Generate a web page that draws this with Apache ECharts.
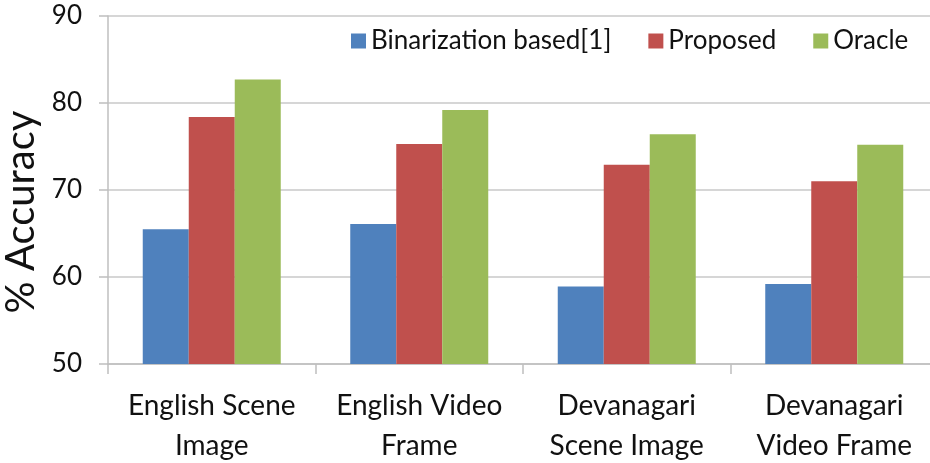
<!DOCTYPE html>
<html>
<head>
<meta charset="utf-8">
<script src="https://cdn.jsdelivr.net/npm/echarts@6/dist/echarts.min.js"></script>
<style>
  html, body { margin: 0; padding: 0; background: #fff; }
  #chart { width: 930px; height: 463px; }
</style>
</head>
<body>
<div id="chart"></div>
<script>
var categories = ['English Scene\nImage', 'English Video\nFrame', 'Devanagari\nScene Image', 'Devanagari\nVideo Frame'];
var seriesNames = ['Binarization based[1]', 'Proposed', 'Oracle'];
var binarization = [65.5, 66.1, 58.9, 59.2];
var proposed = [78.4, 75.3, 72.9, 71.0];
var oracle = [82.7, 79.2, 76.4, 75.2];
var colors = ['#4F81BD', '#C0504D', '#9BBB59'];

var chart = echarts.init(document.getElementById('chart'));
var font = 'Lato, "Open Sans", sans-serif';

function bar(name, data, color) {
    return {
        name: name,
        type: 'bar',
        data: data,
        barWidth: 46,
        barGap: '0%',
        itemStyle: { color: color }
    };
}

var option = {
    animation: false,
    color: colors,
    legend: {
        data: seriesNames,
        left: 346,
        top: 23,
        itemWidth: 15,
        itemHeight: 15,
        itemGap: 37,
        icon: 'rect',
        textStyle: { color: '#111', fontSize: 26, fontFamily: font }
    },
    grid: { left: 108, right: -8, top: 16, bottom: 99, containLabel: false, outerBoundsMode: 'none' },
    xAxis: {
        type: 'category',
        data: categories,
        axisLine: { show: true, lineStyle: { color: '#bfbfbf', width: 1.5 } },
        axisTick: { show: true, length: 10, lineStyle: { color: '#bfbfbf', width: 1.5 } },
        axisLabel: {
            color: '#111',
            fontSize: 28,
            fontFamily: font,
            lineHeight: 40,
            margin: 22,
            interval: 0
        }
    },
    yAxis: {
        type: 'value',
        min: 50,
        max: 90,
        interval: 10,
        name: '% Accuracy',
        nameLocation: 'middle',
        nameRotate: 90,
        nameGap: 54,
        nameTextStyle: { color: '#111', fontSize: 40, fontFamily: font, padding: [0, 44, 0, 0] },
        axisLine: { show: true, lineStyle: { color: '#bfbfbf', width: 1.5 } },
        axisTick: { show: true, length: 9, lineStyle: { color: '#bfbfbf', width: 1.5 } },
        splitLine: { show: true, lineStyle: { color: '#c8c8c8', width: 1.5 } },
        axisLabel: { color: '#111', fontSize: 26, fontFamily: font, margin: 26 }
    },
    series: [
        bar(seriesNames[0], binarization, colors[0]),
        bar(seriesNames[1], proposed, colors[1]),
        bar(seriesNames[2], oracle, colors[2])
    ]
};
chart.setOption(option);
</script>
</body>
</html>
